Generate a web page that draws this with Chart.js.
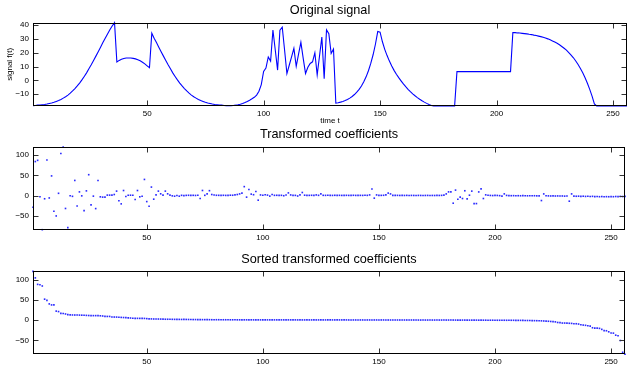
<!DOCTYPE html>
<html>
<head>
<meta charset="utf-8">
<script src="https://cdn.jsdelivr.net/npm/chart.js@4.4.1/dist/chart.umd.min.js"></script>
<style>
  html, body { margin: 0; padding: 0; background: #fff; }
  #fig { position: relative; width: 629px; height: 366px; }
  .panel { position: absolute; left: 0; width: 629px; }
</style>
</head>
<body>
<div id="fig">
  <div class="panel" style="top:0;height:126px"><canvas id="signalChart"></canvas></div>
  <div class="panel" style="top:126px;height:124px"><canvas id="coefChart"></canvas></div>
  <div class="panel" style="top:250px;height:116px"><canvas id="sortedChart"></canvas></div>
</div>
<script>
// tick labels
var xTicks = [50, 100, 150, 200, 250];
var signalTicks = [-10, 0, 10, 20, 30, 40];
var coefTicks = [-50, 0, 50, 100];

// original signal f(t), t = 1..256
var signal = [
  -18.2, -18.1, -17.9, -17.8, -17.6, -17.4, -17.1, -16.7, -16.3, -15.8, -15.2, -14.6, -13.8, -12.8, -11.8, -10.6,
  -9.2, -7.6, -5.9, -4.0, -1.9, 0.4, 2.9, 5.5, 8.4, 11.3, 14.4, 17.6, 20.8, 24.1, 27.4, 30.6,
  33.7, 36.7, 39.4, 41.8, 13.3, 14.5, 15.3, 15.9, 16.2, 16.3, 16.2, 16.0, 15.6, 15.0, 14.2, 13.2,
  12.0, 10.6, 9.2, 34.2, 30.6, 27.4, 24.1, 20.8, 17.6, 14.4, 11.3, 8.4, 5.5, 2.9, 0.4, -1.9,
  -4.0, -5.9, -7.6, -9.2, -10.6, -11.8, -12.8, -13.8, -14.6, -15.2, -15.8, -16.3, -16.7, -17.1, -17.4, -17.6,
  -17.8, -17.9, -18.1, -18.2, -18.3, -18.2, -18.1, -17.9, -17.6, -17.2, -16.7, -16.0, -15.2, -14.3, -13.3, -12.2,
  -10.6, -7.8, -3.0, 6.5, 9.0, 17.0, 14.0, 36.5, 22.0, 7.5, 36.4, 38.5, 22.0, 5.0, 11.0, 17.0,
  23.2, 10.2, 19.0, 27.6, 16.0, 5.0, 9.5, 12.3, 13.5, 20.0, 4.0, 17.7, 31.4, 1.2, 36.6, 33.8,
  19.5, 22.7, -16.4, -16.1, -15.7, -15.2, -14.6, -13.8, -12.8, -11.6, -10.2, -8.5, -6.5, -4.0, -1.0, 2.6,
  7.0, 12.3, 18.6, 26.2, 35.4, 35.0, 28.0, 22.5, 18.0, 14.0, 10.5, 7.3, 4.5, 2.0, -0.3, -2.5,
  -4.5, -6.4, -8.1, -9.7, -11.1, -12.4, -13.6, -14.7, -15.7, -16.6, -17.4, -18.1, -18.5, -18.5, -18.5, -18.5,
  -18.5, -18.5, -18.5, -18.5, -18.5, -18.5, 6.4, 6.4, 6.4, 6.4, 6.4, 6.4, 6.4, 6.4, 6.4, 6.4,
  6.4, 6.4, 6.4, 6.4, 6.4, 6.4, 6.4, 6.4, 6.4, 6.4, 6.4, 6.4, 6.4, 6.4, 34.7, 34.6,
  34.4, 34.3, 34.1, 33.9, 33.7, 33.4, 33.2, 32.8, 32.5, 32.1, 31.7, 31.2, 30.7, 30.1, 29.4, 28.6,
  27.8, 26.9, 25.8, 24.6, 23.3, 21.9, 20.2, 18.4, 16.4, 14.1, 11.5, 8.7, 5.5, 1.9, -2.0, -6.5,
  -11.4, -17.0, -18.5, -18.5, -18.5, -18.5, -18.5, -18.5, -18.5, -18.5, -18.5, -18.5, -18.5, -18.5, -18.5, -18.5
];

// transformed coefficients, index 1..256
var coefs = [
  -29, 84, 87, -3, -84.5, -8, 88, -6, 48.5, -38.8, -50.5, 5.5, 104, 120, -32, -79.5,
  -0.5, -2, 37.3, -26, 9, -0.8, -37.3, 11.5, 51.5, -23, -1.5, -32.3, 37.3, -3.2, -4, -4,
  1, 1, 1, 2.5, 10.9, -13, -20.6, 12.4, -2.5, 0.8, 0.8, 0.8, -9.9, 12.4, -3.2, -1.7,
  39.8, -15, -26.4, 20.9, -9, 1.7, 10.9, 4.2, 1, 10.9, 4.2, 1, -0.8, -1.7, 0, -1.7,
  0.5, -0.3, 0.4, 0.6, 0.3, 0.5, 0.2, 0.8, -7.5, 12.5, 0.5, 4, 12, 2.5, 1.2, 0.6,
  0.5, 0.4, 0.6, 0.3, 0.5, 0.8, 0.7, 1.5, 2.5, 4, 6, 22, -4, 15, 3.5, 2,
  10, -11.5, 1.5, 0.8, 2, 1, -1.5, 2.5, 0.5, 0.6, 0.3, 0.5, -0.5, 1.2, 6.5, 1.5,
  0.5, 0.4, -1.2, 1.5, 7.5, 0.8, 0.5, 0.4, 0.6, 0.3, 1.5, 0.5, 4, 0.5, 0.4, 0.6,
  0.5, 0.3, 0.6, 0.4, 0.5, 0.3, 0.4, 0.5, 0.3, 0.4, 0.6, 0.3, 0.5, 0.4, 0.3, 0.6,
  0.4, 1.5, 16, -6.5, 1.5, 0.5, 0.4, 0.6, 1.5, 6, 4, 0.5, 0.3, 0.4, 0.2, 0.3,
  0.2, 0.4, 0.1, 0.3, 0.2, 0.1, 0.3, 0.2, 0.1, 0.2, 0.3, 0.1, 0.2, 0.1, 0.3, 0.2,
  0.4, 1, 4, 9, 9, -19, 13.4, -9.1, -4.1, -7.4, 11.8, -8.3, 0.8, 10.9, -19.9, -19.9,
  8.9, 16.3, -7.4, 1.7, 0.8, 0.2, -0.1, 0.3, 0.2, -0.3, -1.6, 4.1, 0.3, -0.2, -0.4, -0.3,
  -0.5, -0.4, -0.6, -0.3, -0.5, -0.7, -0.4, -0.6, -0.5, -0.8, -1, -12.4, 4, -0.7, -0.9, -1.1,
  -0.8, -1.2, -1, -1.3, -1.1, -1.5, -1.2, -14, 4, -1.4, -1.8, -1.6, -2, -1.7, -2.2, -1.9,
  -2.3, -2, -2.6, -2.4, -2.9, -2.5, -3, -2.8, -3, -2.6, -2.9, -2.4, -2.7, -2.2, -2.5, -2
];

// the same coefficients
var sortedCoefs = [
  120, 104, 88, 87, 84, 51.5, 48.5, 39.8, 37.3, 37.3, 22, 20.9, 16.3, 16, 15, 13.4,
  12.6, 12.5, 12.4, 12.4, 12.2, 12, 11.8, 11.5, 11.2, 11, 10.9, 10.9, 10.9, 10.5, 10, 9,
  8.9, 8.9, 7.5, 7.4, 7.3, 7, 6.5, 6.2, 6, 5.5, 5, 4.5, 4.2, 4.2, 4.1, 4,
  4, 3.5, 3, 2.8, 2.6, 2.5, 2.5, 2.4, 2.2, 2, 2, 1.9, 1.8, 1.7, 1.7, 1.6,
  1.5, 1.5, 1.5, 1.4, 1.3, 1.2, 1.2, 1.1, 1, 1, 1, 0.9, 0.9, 0.8, 0.8, 0.8,
  0.8, 0.7, 0.7, 0.7, 0.6, 0.6, 0.6, 0.6, 0.5, 0.5, 0.5, 0.5, 0.5, 0.5, 0.5, 0.4,
  0.4, 0.4, 0.4, 0.4, 0.4, 0.4, 0.4, 0.4, 0.4, 0.4, 0.4, 0.4, 0.4, 0.4, 0.4, 0.4,
  0.4, 0.4, 0.3, 0.3, 0.3, 0.3, 0.3, 0.3, 0.3, 0.3, 0.3, 0.3, 0.3, 0.3, 0.3, 0.3,
  0.3, 0.3, 0.3, 0.3, 0.3, 0.3, 0.3, 0.3, 0.2, 0.2, 0.2, 0.2, 0.2, 0.2, 0.2, 0.2,
  0.2, 0.2, 0.2, 0.2, 0.2, 0.2, 0.2, 0.2, 0.1, 0.1, 0.1, 0.1, 0.1, 0.1, 0.1, 0.1,
  0.1, 0.1, 0.1, 0.1, 0.1, 0.1, 0, 0, 0, 0, 0, 0, 0, 0, 0, 0,
  0, 0, 0, 0, 0, 0, -0.1, -0.1, -0.1, -0.1, -0.1, -0.2, -0.2, -0.2, -0.2, -0.2,
  -0.3, -0.3, -0.3, -0.3, -0.4, -0.4, -0.4, -0.4, -0.5, -0.5, -0.5, -0.5, -0.6, -0.6, -0.6, -0.6,
  -0.7, -0.8, -0.8, -0.9, -1, -1.1, -1.2, -1.3, -1.5, -1.6, -1.8, -2, -2.3, -2.6, -3, -3.5,
  -4, -4.5, -6, -6.5, -7.4, -7.4, -7.5, -8, -8.3, -9, -9.1, -9.9, -11.5, -12.4, -13, -14,
  -15, -19, -19.9, -19.9, -20.6, -23, -26, -26.4, -29, -32, -32.3, -37.3, -38.8, -50.5, -79.5, -84.5
];

Chart.defaults.font.family = '"Liberation Sans", Arial, Helvetica, sans-serif';
Chart.defaults.color = '#000';

function fmt(v) {
  return v < 0 ? '\u2212' + (-v) : String(v);
}

// matlab style box with inward ticks on all four sides
var frame = {
  id: 'frame',
  afterDatasetsDraw: function (chart) {
    var ctx = chart.ctx, a = chart.chartArea;
    var sx = chart.scales.x, sy = chart.scales.y;
    var L = Math.round(a.left) + 0.5, R = Math.round(a.right) - 0.5;
    var T = Math.round(a.top) + 0.5, B = Math.round(a.bottom) - 0.5;
    ctx.save();
    ctx.strokeStyle = '#333';
    ctx.lineWidth = 1;
    ctx.beginPath();
    sx.ticks.forEach(function (t) {
      var px = Math.round(sx.getPixelForValue(t.value)) + 0.5;
      ctx.moveTo(px, B); ctx.lineTo(px, B - 5);
      ctx.moveTo(px, T); ctx.lineTo(px, T + 5);
    });
    sy.ticks.forEach(function (t) {
      var py = Math.round(sy.getPixelForValue(t.value)) + 0.5;
      ctx.moveTo(L, py); ctx.lineTo(L + 5, py);
      ctx.moveTo(R, py); ctx.lineTo(R - 5, py);
    });
    ctx.stroke();
    ctx.strokeStyle = '#000';
    ctx.strokeRect(L, T, R - L, B - T);
    ctx.restore();
  }
};

function panel(id, cfg) {
  var pts = cfg.values.map(function (v, k) { return { x: k + 1, y: v }; });
  var ds = cfg.line
    ? { data: pts, borderColor: '#0000ff', borderWidth: 1.1, pointRadius: 0, tension: 0, clip: false }
    : { data: pts, backgroundColor: '#2a2aff', borderWidth: 0, pointRadius: 1.15, pointStyle: 'rect', clip: false };
  return new Chart(document.getElementById(id), {
    type: cfg.line ? 'line' : 'scatter',
    data: { datasets: [ds] },
    plugins: [frame],
    options: {
      responsive: true,
      maintainAspectRatio: false,
      animation: false,
      events: [],
      layout: { padding: { left: 0, right: 2, top: 0, bottom: 0 } },
      plugins: {
        legend: { display: false },
        tooltip: { enabled: false },
        title: {
          display: true,
          text: cfg.title,
          fullSize: false,
          color: '#000',
          font: { size: 12.7, weight: 'normal', lineHeight: 1 },
          padding: cfg.titlePad
        }
      },
      scales: {
        x: {
          type: 'linear',
          min: 1,
          max: cfg.values.length,
          grid: { display: false, drawTicks: false },
          border: { display: false },
          afterBuildTicks: function (s) { s.ticks = xTicks.map(function (v) { return { value: v }; }); },
          afterFit: function (s) { s.height = cfg.xh; },
          ticks: { font: { size: 8, lineHeight: 1.2 }, padding: 3, maxRotation: 0, color: '#000' },
          title: { display: !!cfg.xTitle, text: cfg.xTitle || '', font: { size: 8, lineHeight: 1.2 }, padding: { top: 0, bottom: 0 }, color: '#000' }
        },
        y: {
          min: Math.min.apply(null, cfg.values),
          max: Math.max.apply(null, cfg.values),
          grid: { display: false, drawTicks: false },
          border: { display: false },
          afterBuildTicks: function (s) { s.ticks = cfg.yTicks.map(function (v) { return { value: v }; }); },
          afterFit: function (s) { s.width = 33; },
          ticks: { font: { size: 8 }, padding: 4, color: '#000', callback: fmt },
          title: { display: !!cfg.yTitle, text: cfg.yTitle || '', font: { size: 8, lineHeight: 1.2 }, padding: { top: 5, bottom: 0 }, color: '#000' }
        }
      }
    }
  });
}

panel('signalChart', {
  values: signal, line: true, title: 'Original signal',
  titlePad: { top: 4.5, bottom: 5.5 }, xh: 20, yTicks: signalTicks,
  xTitle: 'time t', yTitle: 'signal f(t)'
});
panel('coefChart', {
  values: coefs, title: 'Transformed coefficients',
  titlePad: { top: 2.5, bottom: 5.8 }, xh: 20.3, yTicks: coefTicks
});
panel('sortedChart', {
  values: sortedCoefs, title: 'Sorted transformed coefficients',
  titlePad: { top: 3.5, bottom: 5.2 }, xh: 11.7, yTicks: coefTicks
});
</script>
</body>
</html>
